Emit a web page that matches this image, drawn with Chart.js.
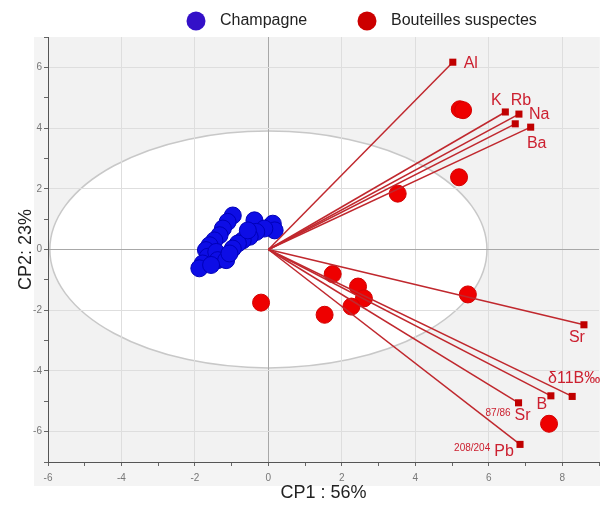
<!DOCTYPE html>
<html><head><meta charset="utf-8">
<script src="https://cdn.jsdelivr.net/npm/chart.js@4.4.0/dist/chart.umd.min.js"></script>
<style>html,body{margin:0;padding:0;background:#fff;}canvas{display:block;}</style>
</head><body>
<canvas id="c" width="611" height="512"></canvas>
<script>
// ---- data ----
const seriesNames = ['Champagne', 'Bouteilles suspectes'];
const champagneX = [-0.97,-1.11,-1.24,-1.33,-1.47,-1.60,-1.70,-1.65,-1.79,-1.88,-1.42,-1.38,-1.15,-1.56,-0.38,0.12,0.17,-0.11,-0.33,-0.51,-0.70,-0.83,-0.97,-1.06,-0.56];
const champagneY = [1.12,0.91,0.69,0.47,0.30,0.14,-0.02,-0.24,-0.46,-0.62,-0.08,-0.35,-0.35,-0.51,0.96,0.85,0.63,0.69,0.58,0.42,0.30,0.20,0.03,-0.13,0.63];
const suspectX = [5.21,5.30,5.19,3.52,1.75,2.44,2.60,2.26,1.53,-0.20,5.43,7.64];
const suspectY = [4.62,4.59,2.38,1.84,-0.81,-1.22,-1.61,-1.88,-2.15,-1.75,-1.48,-5.74];
const loadingNames = ['Al','K','Rb','Na','Ba','Sr','δ11B‰','B','Sr','Pb'];
const loadingPrefixes = ['','','','','','','','','87/86','208/204'];
const loadingX = [5.02,6.45,6.82,6.72,7.14,8.59,8.27,7.69,6.81,6.85];
const loadingY = [6.17,4.53,4.46,4.14,4.03,-2.48,-4.84,-4.82,-5.05,-6.42];
const xTickLabels = [-6,-4,-2,0,2,4,6,8];
const yTickLabels = [-6,-4,-2,0,2,4,6];
const ellipseRadii = [5.95, 3.9];

// ---- styles ----
const FONT = '"Liberation Sans", Arial, sans-serif';
const labelOffsets = [[18,1],[-9,-11],[2,-13.5],[24,-9],[6,16],[-7,13],[2,-18],[-9,8.5],[4,13],[-16,7]];
const vectorColor = '#c0282e';
const labelColor = '#cc2030';
const legendColors = ['#3310c8', '#cc0000'];

const toPts = (xs, ys) => xs.map((x, i) => ({x, y: ys[i]}));

const datasets = [];
loadingX.forEach((x, i) => {
  datasets.push({
    label: loadingNames[i],
    isVector: true,
    data: [{x: 0, y: 0}, {x, y: loadingY[i]}],
    showLine: true,
    borderColor: vectorColor,
    borderWidth: 1.5,
    pointStyle: 'rect',
    pointRadius: c => c.dataIndex === 1 ? 5 : 0,
    pointBackgroundColor: '#c00000',
    pointBorderColor: '#c00000',
    pointBorderWidth: 0,
    order: 0
  });
});
datasets.push({
  label: seriesNames[1],
  data: toPts(suspectX, suspectY),
  backgroundColor: '#ee0000',
  borderColor: '#d40000',
  borderWidth: 1,
  pointRadius: 8.5,
  order: 1
});
datasets.push({
  label: seriesNames[0],
  data: toPts(champagneX, champagneY),
  backgroundColor: '#0d0de6',
  borderColor: '#0000b8',
  borderWidth: 1,
  pointRadius: 8.5,
  order: 2
});

const bgPlugin = {
  id: 'bg',
  beforeDraw(chart) {
    const {ctx, chartArea: a, scales: {x, y}} = chart;
    ctx.save();
    ctx.fillStyle = '#fff';
    ctx.fillRect(0, 0, chart.width, chart.height);
    ctx.fillStyle = '#f4f4f4';
    ctx.fillRect(34, a.top, a.right + 1 - 34, 486 - a.top);
    ctx.fillStyle = '#f2f2f2';
    ctx.fillRect(a.left, a.top, a.right - a.left, a.bottom - a.top);
    const cx = x.getPixelForValue(0), cy = y.getPixelForValue(0);
    const rx = Math.abs(x.getPixelForValue(ellipseRadii[0]) - cx);
    const ry = Math.abs(y.getPixelForValue(ellipseRadii[1]) - cy);
    ctx.beginPath();
    ctx.ellipse(cx, cy, rx, ry, 0, 0, Math.PI * 2);
    ctx.fillStyle = '#ffffff';
    ctx.fill();
    ctx.lineWidth = 1.5;
    ctx.strokeStyle = '#c8c8c8';
    ctx.stroke();
    ctx.restore();
  }
};

const labelPlugin = {
  id: 'labels',
  afterDatasetsDraw(chart) {
    const {ctx, scales: {x, y}} = chart;
    ctx.save();
    ctx.fillStyle = labelColor;
    ctx.textBaseline = 'middle';
    loadingNames.forEach((name, i) => {
      const px = x.getPixelForValue(loadingX[i]) + labelOffsets[i][0];
      const py = y.getPixelForValue(loadingY[i]) + labelOffsets[i][1];
      ctx.font = '16px ' + FONT;
      ctx.textAlign = 'center';
      ctx.fillText(name, px, py);
      if (loadingPrefixes[i]) {
        const w = ctx.measureText(name).width;
        ctx.font = '10px ' + FONT;
        ctx.textAlign = 'right';
        ctx.fillText(loadingPrefixes[i], px - w / 2 - 4, py - 3);
      }
    });
    ctx.restore();
  },
  afterDraw(chart) {
    const {ctx} = chart;
    ctx.save();
    ctx.font = '16px ' + FONT;
    ctx.textBaseline = 'middle';
    ctx.textAlign = 'left';
    const items = [[196, seriesNames[0], legendColors[0]], [367, seriesNames[1], legendColors[1]]];
    items.forEach(([cx, text, col]) => {
      ctx.beginPath();
      ctx.arc(cx, 21, 9.5, 0, Math.PI * 2);
      ctx.fillStyle = col;
      ctx.fill();
      ctx.fillStyle = '#222';
      ctx.fillText(text, cx + 24, 21);
    });
    ctx.restore();
  }
};

const gridColor = c => {
  const v = c.tick.value;
  if (v === 0) return '#a8a8a8';
  return (Math.abs(v) % 2 === 0) ? '#dedede' : 'rgba(0,0,0,0)';
};

new Chart(document.getElementById('c'), {
  type: 'scatter',
  data: {datasets},
  options: {
    responsive: false,
    devicePixelRatio: 1,
    animation: false,
    layout: {padding: {top: 37, right: 12, left: 0, bottom: 0}},
    plugins: {legend: {display: false}, tooltip: {enabled: false}},
    scales: {
      x: {
        type: 'linear', min: -6, max: 9,
        afterFit: s => { s.height = 50; },
        ticks: {
          stepSize: 1, autoSkip: false, maxRotation: 0, padding: 6,
          color: '#777', font: {size: 10, family: FONT},
          callback: v => xTickLabels.includes(v) ? String(v) : ''
        },
        grid: {color: gridColor, tickColor: '#666', tickLength: 4, lineWidth: 1},
        border: {display: true, color: '#555', width: 1},
        title: {display: true, text: 'CP1 : 56%', color: '#222', font: {size: 18, family: FONT}, padding: {top: 0, bottom: 8}}
      },
      y: {
        type: 'linear', min: -7, max: 7,
        afterFit: s => { s.width = 48; },
        ticks: {
          stepSize: 1, autoSkip: false, padding: 2,
          color: '#777', font: {size: 10, family: FONT},
          callback: v => yTickLabels.includes(v) ? String(v) : ''
        },
        grid: {color: gridColor, tickColor: '#666', tickLength: 4, lineWidth: 1},
        border: {display: true, color: '#555', width: 1},
        title: {display: true, text: 'CP2: 23%', color: '#222', font: {size: 18, family: FONT}, padding: {top: 15, bottom: 0}}
      }
    }
  },
  plugins: [bgPlugin, labelPlugin]
});
</script>
</body></html>
